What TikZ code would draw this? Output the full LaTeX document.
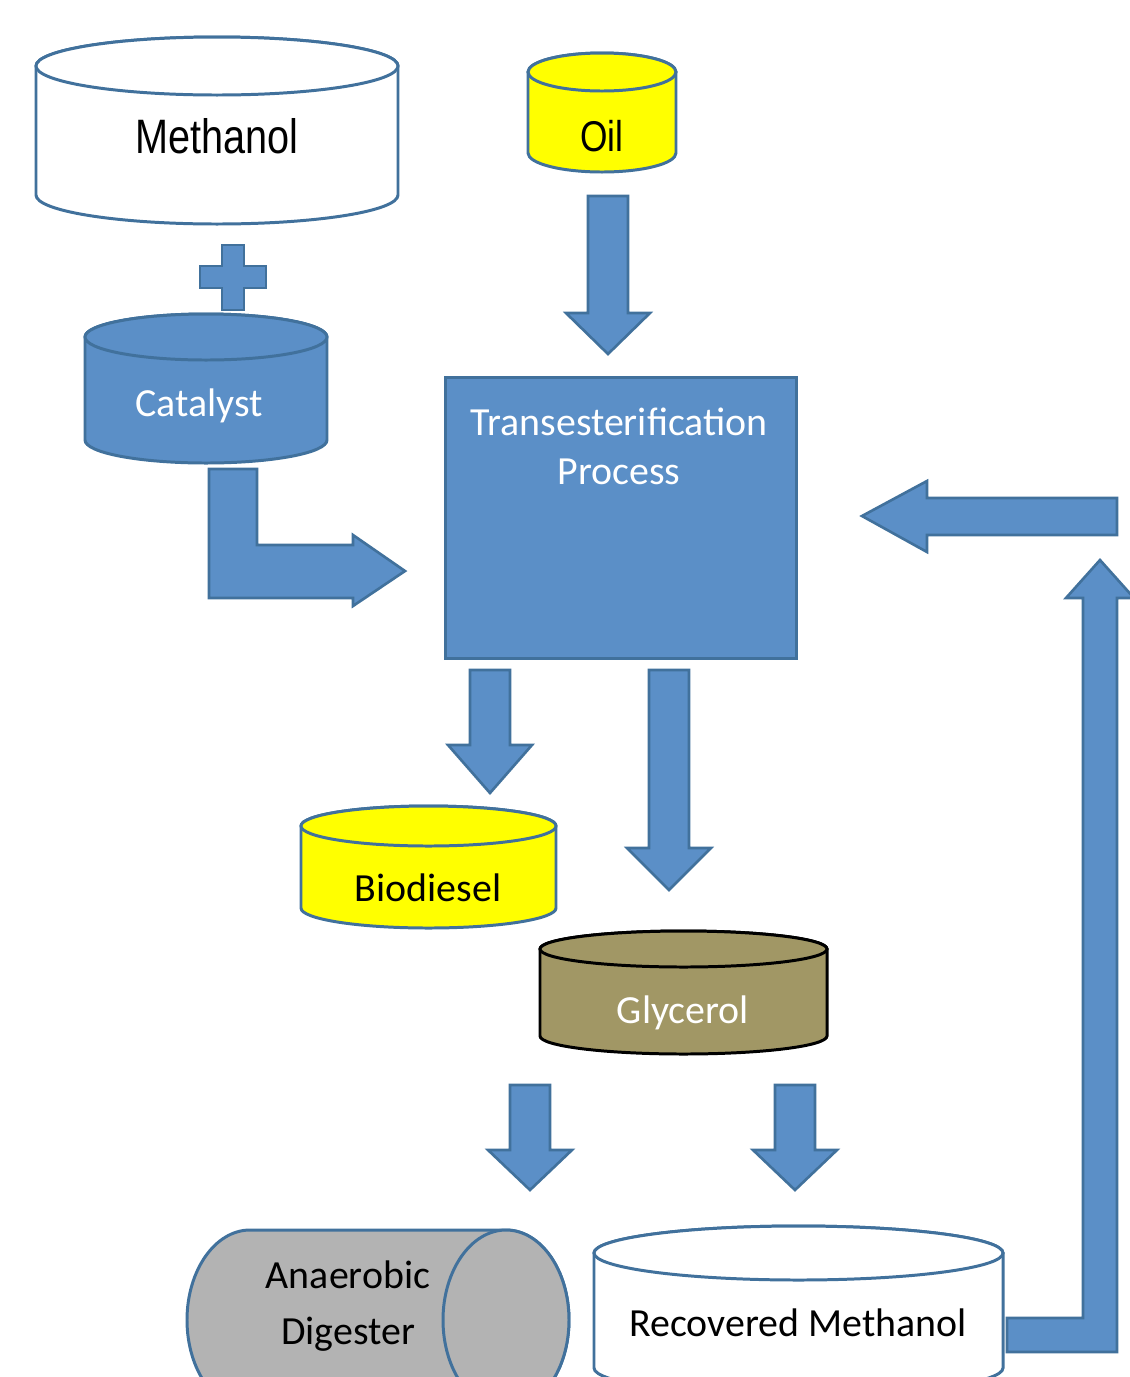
\documentclass[tikz,border=0pt]{standalone}
\usepackage{fontspec}
\setmainfont{Carlito}
\newfontfamily\narrowfont[FakeStretch=0.82]{Liberation Sans}
\usetikzlibrary{positioning,calc}

\definecolor{flowblue}{RGB}{91,143,199}
\definecolor{edgeblue}{RGB}{65,113,156}
\definecolor{oilyellow}{RGB}{255,255,0}
\definecolor{glycolive}{RGB}{161,151,101}
\definecolor{digestgray}{RGB}{179,179,179}

% upright tank: style, cx, y of top ellipse, y of bottom ellipse, rx, ry
\newcommand{\tank}[6]{%
  \path[#1] (#2-#5,#3) -- (#2-#5,#4)
    arc[start angle=180, end angle=0, x radius=#5, y radius=#6]
    -- (#2+#5,#3)
    arc[start angle=0, end angle=-180, x radius=#5, y radius=#6] -- cycle;
  \path[#1] (#2,#3) ellipse[x radius=#5, y radius=#6];
}
% block arrow pointing down: cx, top, head base, tip
\newcommand{\dnarrow}[4]{%
  \path[blockarrow] (#1-20,#2) -- (#1+20,#2) -- (#1+20,#3) -- (#1+42,#3)
    -- (#1,#4) -- (#1-42,#3) -- (#1-20,#3) -- cycle;
}

\begin{document}
\begin{tikzpicture}[
  x=0.02cm, y=-0.02cm,
  line join=miter,
  lbl/.style={font=\fontsize{22.7pt}{27.8pt}\selectfont, align=center, inner sep=0pt},
  tankwhite/.style={draw=edgeblue, line width=1.7pt, fill=white},
  tankblue/.style={draw=edgeblue, line width=1.7pt, fill=flowblue},
  tankyellow/.style={draw=edgeblue, line width=1.7pt, fill=oilyellow},
  tankolive/.style={draw=black, line width=1.7pt, fill=glycolive},
  tankgray/.style={draw=edgeblue, line width=1.7pt, fill=digestgray},
  blockarrow/.style={draw=edgeblue, line width=1.5pt, fill=flowblue},
  procbox/.style={draw=edgeblue, line width=1.7pt, fill=flowblue,
    anchor=north west, inner sep=0pt}
]
\clip (0,0) rectangle (1130,1377);

% ---------- feeds ----------
\tank{tankwhite}{217}{66}{195}{181}{29}
\node[lbl, font=\fontsize{27.5pt}{30pt}\narrowfont] (methanol) at (217,136) {Methanol};

\tank{tankyellow}{602}{72}{153}{74}{19}
\node[lbl, font=\fontsize{24.5pt}{28pt}\narrowfont] (oil) at (602,136) {Oil};

% plus sign
\path[blockarrow] (222,245) -- (244,245) -- (244,266) -- (266,266) -- (266,288)
  -- (244,288) -- (244,310) -- (222,310) -- (222,288) -- (200,288)
  -- (200,266) -- (222,266) -- cycle;

\tank{tankblue}{206}{337}{440}{121}{23}
\node[lbl, text=white] (catalyst) at (199,406) {Catalyst};

% ---------- reactor ----------
\node[procbox, minimum width=7.02cm, minimum height=5.62cm] (proc) at (444,376) {};
\node[lbl, text=white] (proctext) at (619,446) {Transesterification\\Process};

\dnarrow{608}{196}{313}{354}
\path[blockarrow] (209,469) -- (257,469) -- (257,545) -- (353,545) -- (353,535)
  -- (405,571) -- (353,606) -- (353,598) -- (209,598) -- cycle;

% ---------- products ----------
\dnarrow{490}{670}{745}{793}
\dnarrow{669}{670}{848}{890}

\tank{tankyellow}{428.5}{826}{908}{127.5}{20}
\node[lbl] (biodiesel) at (428,888) {Biodiesel};

\tank{tankolive}{683.5}{949}{1036}{143.5}{18}
\node[lbl, text=white] (glycerol) at (683,1013) {Glycerol};

\dnarrow{530}{1085}{1150}{1190}
\dnarrow{795}{1085}{1150}{1190}

% digester lying on its side
\path[tankgray] (250,1230) -- (506,1230)
  arc[start angle=-90, end angle=90, x radius=63, y radius=90]
  -- (250,1410)
  arc[start angle=90, end angle=270, x radius=63, y radius=90] -- cycle;
\path[tankgray] (506,1320) ellipse[x radius=63, y radius=90];
\node[lbl, font=\fontsize{22.7pt}{32pt}\selectfont] (digester) at (348,1306) {Anaerobic\\Digester};

\tank{tankwhite}{798.5}{1253}{1368}{204.5}{27}
\node[lbl] (recovered) at (798,1323) {Recovered Methanol};

% ---------- methanol recycle ----------
\path[blockarrow] (1007,1318) -- (1083,1318) -- (1083,598) -- (1066,598)
  -- (1100,560) -- (1134,598) -- (1117,598) -- (1117,1352) -- (1007,1352) -- cycle;
\path[blockarrow] (1117,498) -- (927,498) -- (927,481) -- (862,516)
  -- (927,552) -- (927,535) -- (1117,535) -- cycle;

\end{tikzpicture}
\end{document}
